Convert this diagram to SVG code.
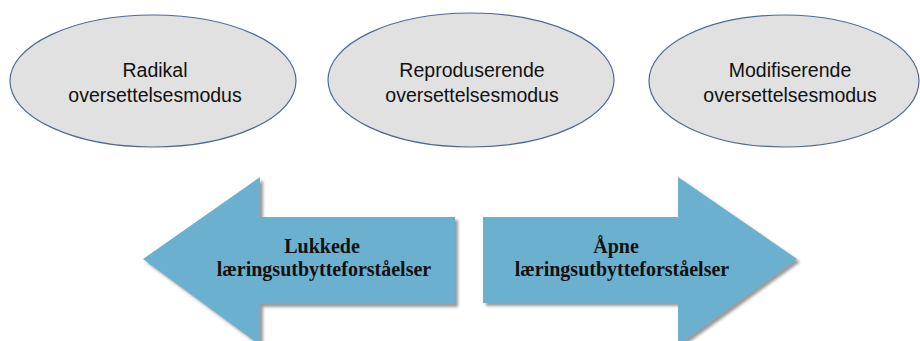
<svg xmlns="http://www.w3.org/2000/svg" width="920" height="341" viewBox="0 0 920 341">
<defs>
<style>
.mode{fill:#e1e1e1;stroke:#4f6a92;stroke-width:1.2}
.mt{font-family:"Liberation Sans",Arial,sans-serif;font-size:19.5px;fill:#111;text-anchor:middle}
.arr{fill:#6cb0cf;filter:url(#sh)}
.at{font-family:"Liberation Serif","Times New Roman",serif;font-weight:bold;font-size:20px;fill:#111;text-anchor:middle}
</style>
<filter id="sh" x="-10%" y="-10%" width="125%" height="130%">
<feDropShadow dx="3" dy="3" stdDeviation="1.5" flood-color="#555" flood-opacity="0.6"/>
</filter>
</defs>
<rect width="920" height="341" fill="#ffffff"/>
<g id="radikal">
<ellipse class="mode" cx="153" cy="81" rx="143" ry="66"/>
<text class="mt" x="155" y="77">Radikal</text>
<text class="mt" x="155" y="102">oversettelsesmodus</text>
</g>
<g id="reproduserende">
<ellipse class="mode" cx="471" cy="80" rx="143" ry="67"/>
<text class="mt" x="472" y="77">Reproduserende</text>
<text class="mt" x="472" y="102">oversettelsesmodus</text>
</g>
<g id="modifiserende">
<ellipse class="mode" cx="784" cy="81" rx="135" ry="66"/>
<text class="mt" x="790" y="77">Modifiserende</text>
<text class="mt" x="790" y="102">oversettelsesmodus</text>
</g>
<g id="lukkede">
<polygon class="arr" points="143,259 260,177 260,217 455,217 455,304 260,304 260,345"/>
<text class="at" x="322" y="253">Lukkede</text>
<text class="at" x="324" y="276">læringsutbytteforståelser</text>
</g>
<g id="apne">
<polygon class="arr" points="483,217 678,217 678,177 797,259 678,345 678,303 483,303"/>
<text class="at" x="616" y="253">Åpne</text>
<text class="at" x="622" y="276">læringsutbytteforståelser</text>
</g>
<g id="connectors"></g>
</svg>
